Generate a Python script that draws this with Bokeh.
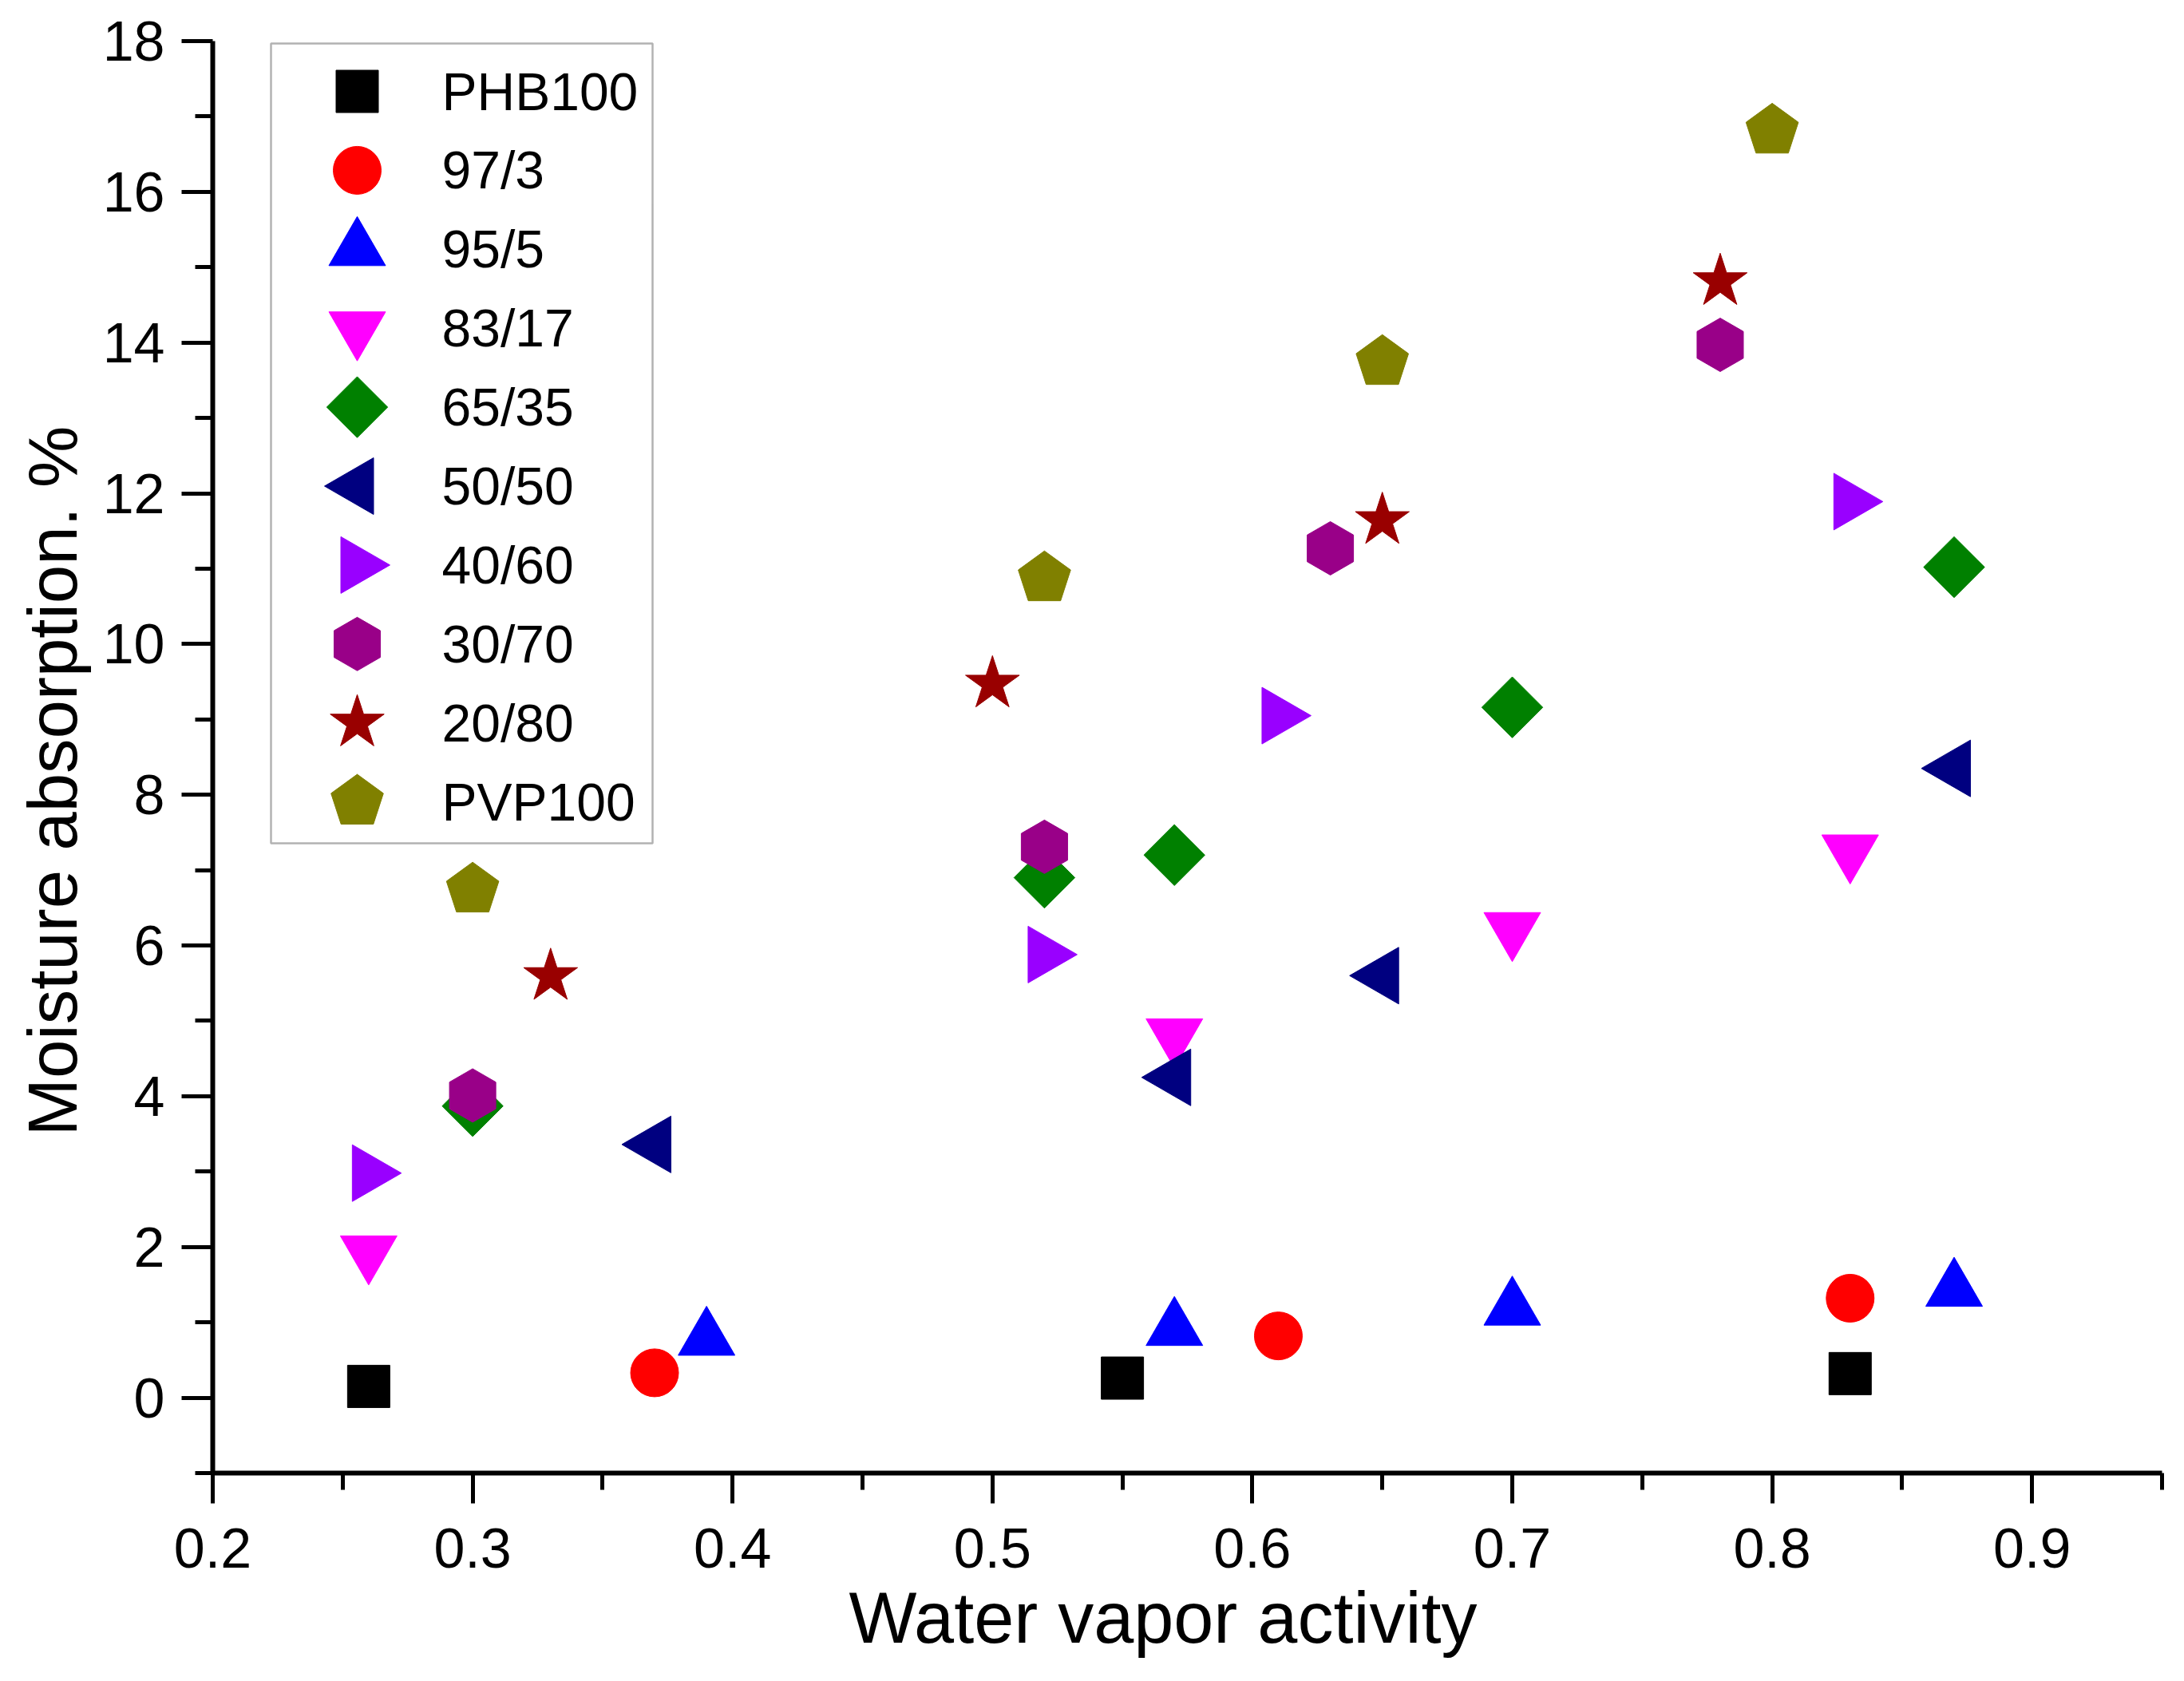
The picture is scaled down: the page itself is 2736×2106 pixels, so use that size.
import math
from bokeh.plotting import figure
from bokeh.models import Range1d, FixedTicker, BoxAnnotation, Title
from bokeh.core.properties import value
from bokeh.embed import file_html
from bokeh.resources import INLINE

# ---------------- data ----------------
series_labels = ["PHB100", "97/3", "95/5", "83/17", "65/35",
                 "50/50", "40/60", "30/70", "20/80", "PVP100"]

phb100_x = [0.26, 0.55, 0.83]
phb100_y = [0.15, 0.26, 0.32]

s97_3_x = [0.37, 0.61, 0.83]
s97_3_y = [0.33, 0.82, 1.32]

s95_5_x = [0.39, 0.57, 0.70, 0.87]
s95_5_y = [0.78, 0.91, 1.18, 1.43]

s83_17_x = [0.26, 0.57, 0.70, 0.83]
s83_17_y = [1.93, 4.81, 6.22, 7.25]

s65_35_x = [0.30, 0.52, 0.57, 0.70, 0.87]
s65_35_y = [3.87, 6.90, 7.20, 9.16, 11.02]

s50_50_x = [0.37, 0.57, 0.65, 0.87]
s50_50_y = [3.36, 4.25, 5.60, 8.35]

s40_60_x = [0.26, 0.52, 0.61, 0.83]
s40_60_y = [2.98, 5.88, 9.05, 11.89]

s30_70_x = [0.30, 0.52, 0.63, 0.78]
s30_70_y = [4.01, 7.31, 11.27, 13.97]

s20_80_x = [0.33, 0.50, 0.65, 0.78]
s20_80_y = [5.59, 9.47, 11.64, 14.81]

pvp100_x = [0.30, 0.52, 0.65, 0.80]
pvp100_y = [6.74, 10.87, 13.74, 16.81]

series_x = [phb100_x, s97_3_x, s95_5_x, s83_17_x, s65_35_x,
            s50_50_x, s40_60_x, s30_70_x, s20_80_x, pvp100_x]
series_y = [phb100_y, s97_3_y, s95_5_y, s83_17_y, s65_35_y,
            s50_50_y, s40_60_y, s30_70_y, s20_80_y, pvp100_y]

x_major = [0.2, 0.3, 0.4, 0.5, 0.6, 0.7, 0.8, 0.9]
x_minor = [0.25, 0.35, 0.45, 0.55, 0.65, 0.75, 0.85, 0.95]
y_major = [0, 2, 4, 6, 8, 10, 12, 14, 16, 18]
y_minor = [-1, 1, 3, 5, 7, 9, 11, 13, 15, 17]

x_title = "Water vapor activity"
y_title = "Moisture absorption. %"

# ---------------- styles ----------------
styles = [
    dict(marker="square", size=53, angle=0.0, color="#000000"),
    dict(marker="circle", size=60, angle=0.0, color="#FF0000"),
    dict(marker="triangle", size=71, angle=0.0, color="#0000FF"),
    dict(marker="inverted_triangle", size=71, angle=0.0, color="#FF00FF"),
    dict(marker="square", size=54, angle=math.pi / 4, color="#008000"),
    dict(marker="triangle", size=71, angle=math.pi / 2, color="#000080"),
    dict(marker="triangle", size=71, angle=-math.pi / 2, color="#9900FF"),
    dict(marker="hex", size=67, angle=math.pi / 2, color="#990088"),
    dict(marker="star", size=71, angle=0.0, color="#990000"),
    dict(marker="pentagon", size=34.5, angle=0.0, color="#808000"),
]

FONT = "Liberation Sans"
X0, X1, Y0, Y1 = 0.2, 0.95, -1.0, 18.0
W, H = 2720, 2090
FRAME_W, FRAME_H = 2442, 1794

p = figure(width=W, height=H, output_backend="svg", toolbar_location=None,
           x_range=Range1d(X0, X1), y_range=Range1d(Y0, Y1),
           min_border_left=266, min_border_right=12, min_border_top=51,
           min_border_bottom=245)
p.outline_line_color = None
p.grid.visible = False
p.background_fill_color = "white"
p.border_fill_color = "white"


def draw(xs, ys, st):
    if st["marker"] == "pentagon":
        return p.ngon(x=xs, y=ys, radius=st["size"], radius_units="screen", n=5,
                      angle=st["angle"], fill_color=st["color"], line_color=st["color"])
    return p.scatter(xs, ys, marker=st["marker"], size=st["size"], angle=st["angle"],
                     color=st["color"])


# legend geometry, in pixels measured from the frame's top-left corner
def fx(px):
    return X0 + px / FRAME_W * (X1 - X0)


def fy(py):
    return Y1 - py / FRAME_H * (Y1 - Y0)


LEG_LEFT, LEG_RIGHT, LEG_TOP, LEG_BOTTOM = 73, 551, 3, 1005
LEG_MARK_X, LEG_TEXT_X, LEG_ROW0, LEG_STEP = 181, 287, 63, 98.9

box = BoxAnnotation(left=fx(LEG_LEFT), right=fx(LEG_RIGHT), top=fy(LEG_TOP), bottom=fy(LEG_BOTTOM),
                    fill_color="white", fill_alpha=1.0, line_color="black", line_width=2.5,
                    level="underlay")
p.add_layout(box)

for i, (lab, xs, ys, st) in enumerate(zip(series_labels, series_x, series_y, styles)):
    draw(xs, ys, st)
    ry = fy(LEG_ROW0 + i * LEG_STEP)
    draw([fx(LEG_MARK_X)], [ry], st)

p.text(x=[fx(LEG_TEXT_X)] * len(series_labels),
       y=[fy(LEG_ROW0 + i * LEG_STEP) for i in range(len(series_labels))],
       text=series_labels, text_font=value(FONT), text_font_size="66px",
       text_color="black", text_align="left", text_baseline="middle")

# axes
for ax in (p.xaxis[0], p.yaxis[0]):
    ax.axis_line_width = 6
    ax.axis_line_color = "black"
    ax.major_tick_line_width = 5
    ax.minor_tick_line_width = 5
    ax.major_tick_in = 0
    ax.minor_tick_in = 0
    ax.major_label_text_font = FONT
    ax.major_label_text_font_size = "70px"
    ax.major_label_text_color = "black"

p.xaxis[0].ticker = FixedTicker(ticks=x_major, minor_ticks=x_minor)
p.yaxis[0].ticker = FixedTicker(ticks=y_major, minor_ticks=y_minor)
p.xaxis[0].major_tick_out = 38
p.xaxis[0].minor_tick_out = 21
p.yaxis[0].major_tick_out = 39
p.yaxis[0].minor_tick_out = 22
p.xaxis[0].major_label_standoff = 31
p.yaxis[0].major_label_standoff = 21

# axis titles, placed in the side panels
xlab = Title(text=x_title, align="left", offset=797, standoff=16,
             text_font=FONT, text_font_size="90px", text_font_style="normal",
             text_color="black")
ylab = Title(text=y_title, align="left", offset=422, standoff=24,
             text_font=FONT, text_font_size="87px", text_font_style="normal",
             text_color="black")
p.add_layout(xlab, "below")
p.add_layout(ylab, "left")

open("out.html", "w").write(file_html(p, INLINE))
